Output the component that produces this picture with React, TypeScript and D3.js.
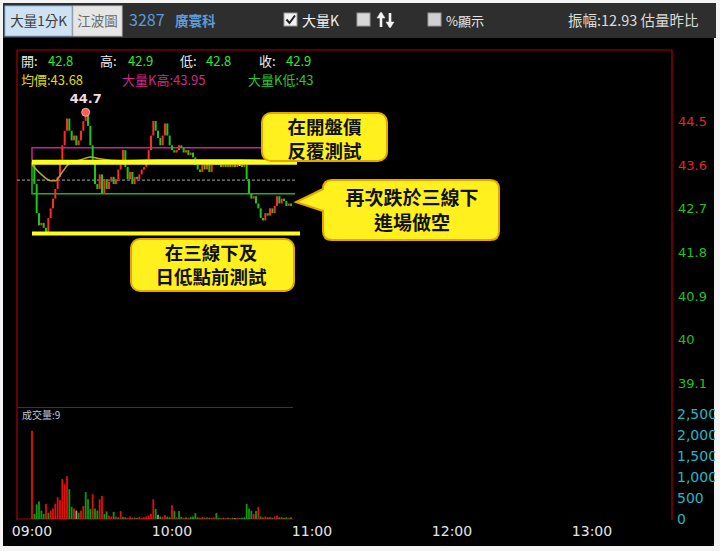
import React from "react";
import * as d3 from "d3";

// ---------- data ----------
const openPrice = 43.65;
const refPrice = 43.28;
const closes = [
  43.6, 43.2, 42.6, 42.35, 42.4, 42.3, 42.2, 42.5, 42.7, 42.9,
  43.1, 43.35, 43.7, 44.0, 44.3, 44.55, 44.3, 44.1, 44.2, 44.0,
  44.1, 44.3, 44.5, 44.7, 44.4, 44.0, 43.7, 43.2, 43.1, 43.4,
  43.0, 43.3, 43.1, 43.25, 43.35, 43.2, 43.3, 43.5, 43.6, 43.9,
  43.55, 43.3, 43.45, 43.2, 43.35, 43.3, 43.4, 43.5, 43.55, 43.7,
  43.9, 44.2, 44.5, 44.3, 44.15, 44.0, 44.2, 44.45, 44.2, 44.0,
  43.9, 43.85, 43.9, 44.0, 43.95, 43.85, 43.9, 43.8, 43.85, 43.75,
  43.6, 43.5, 43.45, 43.6, 43.5, 43.65, 43.45, 43.6, 43.7, 43.6,
  43.65, 43.55, 43.6, 43.55, 43.6, 43.55, 43.6, 43.55, 43.6, 43.6,
  43.55, 43.6, 43.3, 43.0, 42.9, 42.95, 42.8, 42.7, 42.5, 42.45,
  42.6, 42.55, 42.7, 42.6, 42.75, 42.95, 42.8, 42.9, 42.85, 42.75,
  42.8, 42.75,
];
const avgPoints: [number, number][] = [
  [0, 43.6], [4, 43.4], [8, 43.27], [10, 43.27], [13, 43.45], [16, 43.62],
  [21, 43.7], [25, 43.76], [29, 43.72], [38, 43.68], [55, 43.7], [72, 43.7],
  [89, 43.7], [111, 43.66],
];
const volumes = [
  2100, 120, 350, 420, 200, 120, 360, 150, 200, 250,
  360, 520, 450, 950, 830, 1020, 710, 290, 250, 200,
  150, 200, 310, 640, 470, 240, 590, 250, 200, 470,
  550, 120, 180, 80, 60, 170, 60, 40, 190, 50,
  40, 30, 60, 30, 40, 20, 50, 30, 40, 60,
  80, 120, 470, 240, 100, 60, 50, 90, 60, 40,
  330, 190, 40, 190, 50, 30, 40, 30, 50, 60,
  140, 40, 30, 50, 30, 40, 30, 30, 40, 140,
  30, 20, 30, 20, 30, 20, 30, 20, 30, 20,
  30, 40, 360, 250, 200, 120, 190, 290, 60, 40,
  60, 40, 50, 30, 60, 80, 40, 50, 30, 40,
  30, 40,
];
const volColors = (
  "rgggggrgrr" + "rrrrrrggrw" + "grrgggrggr" + "rggrrgrgrg" + "grrgrgrrrr" +
  "rrrgwgrrgg" + "rgrggrgrgg" + "ggrrgrgrrg" + "grgrgrgsrg" + "gggggrgrgr" +
  "rgrgrrgrgg" + "rg"
).split("");
const priceTicks = [44.5, 43.6, 42.7, 41.8, 40.9, 40, 39.1];
const volTicks = [0, 500, 1000, 1500, 2000, 2500];
const timeTicks = ["09:00", "10:00", "11:00", "12:00", "13:00"];
const highLabel = 44.7;
const bigKHigh = 43.95;
const bigKLow = 43.0;
const dayLowLine = 42.18;

const CJK = "'Noto Sans CJK TC', 'Noto Sans', sans-serif";
const NUM = "'DejaVu Sans', Verdana, sans-serif";

export default function App() {
  const x = d3.scaleLinear().domain([0, 270]).range([32, 662]);
  const y = d3.scaleLinear().domain([39.1, 44.5]).range([383, 121]);
  const yv = d3.scaleLinear().domain([0, 2500]).range([519, 414]);

  const RED = "#ff2a2a";
  const GREEN = "#19c819";
  const colorOf = (c: string) =>
    c === "r" ? "#e01010" : c === "g" ? "#0f9a0f" : "#9a9a9a";

  const avgLine = d3
    .line<[number, number]>()
    .x((d) => x(d[0]))
    .y((d) => y(d[1]))
    .curve(d3.curveMonotoneX)(avgPoints) as string;

  const lastX = x(closes.length - 1) + 4;
  const highIdx = closes.indexOf(highLabel);

  // callout box 2 path
  const bx0 = 323, bx1 = 499, by0 = 180, by1 = 240, r = 9;
  const tipX = 296, tipY = 202;
  const callout = `M${bx0 + r},${by0} H${bx1 - r} Q${bx1},${by0} ${bx1},${by0 + r} V${by1 - r} Q${bx1},${by1} ${bx1 - r},${by1} H${bx0 + r} Q${bx0},${by1} ${bx0},${by1 - r} V${211} L${tipX},${tipY} L${bx0},${189} V${by0 + r} Q${bx0},${by0} ${bx0 + r},${by0} Z`;

  const boxFill = "#fff01e";
  const boxStroke = "#e3a700";

  return (
    <svg
      width={720}
      height={551}
      style={{ position: "absolute", left: 0, top: 0 }}
    >
      <defs>
        <clipPath id="clipR">
          <rect x={0} y={0} width={715} height={551} />
        </clipPath>
      </defs>
      <rect x={0} y={0} width={720} height={551} fill="#f4f4f4" />
      {/* toolbar */}
      <rect x={3} y={3} width={713} height={35} fill="#2e2e2e" />
      <rect x={5} y={6} width={67} height={30} fill="#cfe2f4" stroke="#8db9e6" />
      <text x={38.5} y={26} textAnchor="middle" fontFamily={CJK} fontSize={13.5} fill="#3a3a3a">大量1分K</text>
      <rect x={73} y={6} width={49} height={30} fill="#e6e6e6" stroke="#c8c8c8" />
      <text x={97.5} y={26} textAnchor="middle" fontFamily={CJK} fontSize={13.5} fill="#6a6a6a">江波圖</text>
      <text x={129} y={26} fontFamily={CJK} fontSize={16} fill="#5b9bd8">3287</text>
      <text x={175} y={26} fontFamily={CJK} fontSize={13.5} fill="#5b9bd8" fontWeight="bold">廣寰科</text>
      {/* checkbox 大量K */}
      <rect x={284} y={13} width={13} height={13} fill="#f2f2f2" stroke="#999" />
      <path d="M286.5,19.5 L289.5,23 L295,15.5" fill="none" stroke="#222" strokeWidth={2} />
      <text x={302} y={26} fontFamily={CJK} fontSize={14} fill="#f0f0f0">大量K</text>
      <rect x={357} y={13} width={13} height={13} fill="#d8d8d8" stroke="#999" />
      <g stroke="#f4f4f4" strokeWidth={2.6} fill="#f4f4f4">
        <line x1={381} y1={13} x2={381} y2={27} />
        <path d="M377,18 L381,12 L385,18 Z" strokeWidth={0.5} />
        <line x1={390} y1={13} x2={390} y2={27} />
        <path d="M386,22 L390,28 L394,22 Z" strokeWidth={0.5} />
      </g>
      <rect x={428} y={13} width={13} height={13} fill="#d0d0d0" stroke="#999" />
      <text x={446} y={26} fontFamily={CJK} fontSize={13} fill="#e8e8e8">%顯示</text>
      <g clipPath="url(#clipR)">
        <text x={568} y={26} fontFamily={CJK} fontSize={14.5} fill="#dcdcdc">振幅:12.93 估量昨比</text>
      </g>

      {/* chart background */}
      <rect x={3} y={38} width={711} height={508} fill="#000" />

      {/* frame */}
      <g stroke="#b00000" strokeWidth={1.2} fill="none">
        <line x1={17} y1={50} x2={672} y2={50} />
        <line x1={17} y1={50} x2={17} y2={520} />
        <line x1={672} y1={50} x2={672} y2={520} />
        <line x1={17} y1={407.5} x2={293} y2={407.5} />
        <line x1={17} y1={yv(0)} x2={293} y2={yv(0)} />
      </g>

      {/* header info */}
      <g fontFamily={CJK} fontSize={13}>
        <text x={21} y={66} fill="#eeeeee">開:</text>
        <text x={48} y={66} fill="#2ee82e">42.8</text>
        <text x={100} y={66} fill="#eeeeee">高:</text>
        <text x={128} y={66} fill="#2ee82e">42.9</text>
        <text x={180} y={66} fill="#eeeeee">低:</text>
        <text x={206} y={66} fill="#2ee82e">42.8</text>
        <text x={259} y={66} fill="#eeeeee">收:</text>
        <text x={286} y={66} fill="#2ee82e">42.9</text>
        <text x={21} y={85} fill="#e2d612">均價:43.68</text>
        <text x={122} y={85} fill="#d0288e">大量K高:43.95</text>
        <text x={248} y={85} fill="#2ec82e">大量K低:43</text>
      </g>

      {/* reference dashed line */}
      <line x1={17} y1={y(refPrice)} x2={lastX} y2={y(refPrice)} stroke="#8a8a8a" strokeDasharray="3,2" strokeWidth={1.2} />

      {/* big-K band lines */}
      <polyline
        points={`${x(0)},${y(openPrice)} ${x(0)},${y(bigKHigh)} ${lastX + 4},${y(bigKHigh)}`}
        fill="none" stroke="#c2229a" strokeWidth={1.5}
      />
      <polyline
        points={`${x(0)},${y(openPrice)} ${x(0)},${y(bigKLow)} ${lastX},${y(bigKLow)}`}
        fill="none" stroke="#22b022" strokeWidth={1.5}
      />

      {/* candles */}
      {closes.map((c, i) => {
        const o = i === 0 ? openPrice : closes[i - 1];
        const col = c > o ? RED : c < o ? GREEN : "#ffffff";
        const top = y(Math.max(o, c));
        const h = Math.max(1.2, Math.abs(y(o) - y(c)));
        return <rect key={i} x={x(i) - 1} y={top} width={2} height={h} fill={col} />;
      })}

      {/* average line */}
      <path d={avgLine} fill="none" stroke="#b9a43c" strokeWidth={1.5} />

      {/* yellow annotation lines */}
      <line x1={x(0)} y1={y(openPrice)} x2={297} y2={y(openPrice)} stroke="#ffff1a" strokeWidth={5} />
      <line x1={x(0)} y1={y(dayLowLine)} x2={300} y2={y(dayLowLine)} stroke="#ffff1a" strokeWidth={4} />

      {/* high marker */}
      <circle cx={x(highIdx)} cy={y(highLabel) + 1} r={4} fill="#ff5a5a" stroke="#ffaaaa" strokeWidth={1} />
      <text x={x(highIdx)} y={y(highLabel) - 8} textAnchor="middle" fontFamily={NUM} fontWeight="bold" fontSize={13} fill="#f2dce8">{highLabel}</text>

      {/* volume */}
      <text x={22} y={419} fontFamily={CJK} fontSize={10} fill="#b8c8e0">成交量:9</text>
      {volumes.map((v, i) => (
        <rect key={i} x={x(i) - 0.9} y={yv(v)} width={1.8} height={yv(0) - yv(v)} fill={colorOf(volColors[i])} />
      ))}

      {/* price axis labels */}
      {priceTicks.map((p) => (
        <text key={p} x={678} y={y(p) + 5} fontFamily={NUM} fontSize={13} fill={p > refPrice ? "#e02828" : "#22c022"}>
          {d3.format("~g")(p)}
        </text>
      ))}
      <g clipPath="url(#clipR)">
        {volTicks.map((v) => (
          <text key={v} x={677} y={yv(v) + 5} fontFamily={NUM} fontSize={14} fill="#22b8c8">
            {d3.format(",")(v)}
          </text>
        ))}
      </g>

      {/* time axis */}
      {timeTicks.map((t, i) => (
        <text key={t} x={x(i * 60)} y={536} textAnchor="middle" fontFamily={NUM} fontSize={14} fill="#e6e6e6">
          {t}
        </text>
      ))}

      {/* annotation boxes */}
      <rect x={262} y={113} width={125} height={48} rx={9} fill={boxFill} stroke={boxStroke} strokeWidth={2} />
      <g fontFamily={CJK} fontWeight="bold" fontSize={18.5} fill="#111" textAnchor="middle">
        <text x={324.5} y={134}>在開盤價</text>
        <text x={324.5} y={158}>反覆測試</text>
      </g>
      <path d={callout} fill={boxFill} stroke={boxStroke} strokeWidth={2} />
      <g fontFamily={CJK} fontWeight="bold" fontSize={19} fill="#111" textAnchor="middle">
        <text x={412} y={205}>再次跌於三線下</text>
        <text x={412} y={230}>進場做空</text>
      </g>
      <rect x={131} y={239} width={163} height={52} rx={9} fill={boxFill} stroke={boxStroke} strokeWidth={2} />
      <g fontFamily={CJK} fontWeight="bold" fontSize={18.5} fill="#111" textAnchor="middle">
        <text x={211} y={260}>在三線下及</text>
        <text x={211} y={284}>日低點前測試</text>
      </g>
    </svg>
  );
}
